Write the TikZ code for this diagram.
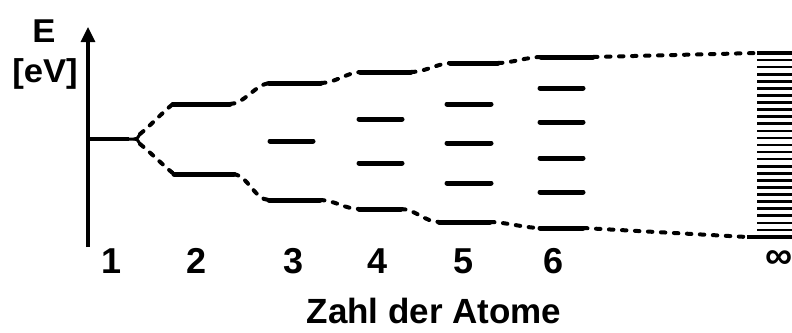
\documentclass[tikz,border=0pt]{standalone}
\usepackage{fontspec}
\setmainfont{Liberation Sans}
\usetikzlibrary{arrows.meta}
\begin{document}
\begin{tikzpicture}[x=1pt,y=-1pt,
  level/.style={line width=5pt,line cap=round},
  link/.style={line width=4pt,line cap=round,dash pattern=on 4.5pt off 8.5pt},
  bandline/.style={line width=2.6pt},
  axis/.style={line width=3.2pt,-{Triangle[width=14pt,length=15pt]}},
  num/.style={font=\fontsize{36}{36}\selectfont\bfseries,inner sep=0pt},
  title/.style={font=\fontsize{35}{35}\selectfont\bfseries,inner sep=0pt},
  unit/.style={font=\fontsize{33}{33}\selectfont\bfseries,inner sep=0pt}]
\useasboundingbox (0,0) rectangle (792,332);

% energy axis
\coordinate (ax0) at (88,247);
\coordinate (ax1) at (88,27);
\draw[axis] (ax0) -- (ax1);
\node[unit] (eE) at (44,31) {\scalebox{1.05}[1]{E}};
\node[unit] (eV) at (45,74) {\scalebox{1.05}[1]{[eV]}};

% one atom and its split
\coordinate (a1l) at (88,139);
\coordinate (a1r) at (129,139);
\coordinate (fork) at (134,139);
\coordinate (forkU) at (140,134);
\coordinate (forkD) at (140,144);
\draw[line width=4.5pt] (a1l) -- (a1r);
\draw[line width=3pt,line cap=round] (a1r) -- (fork) .. controls (137,139) .. (forkU);
\draw[line width=3pt,line cap=round] (fork) .. controls (137,139) .. (forkD);

% two atoms
\coordinate (b1l) at (173,104); \coordinate (b1r) at (230,104);
\coordinate (b2l) at (174,174); \coordinate (b2r) at (234,174);
\draw[level] (b1l) -- (b1r);
\draw[level] (b2l) -- (b2r);

% three atoms
\coordinate (c1l) at (269,83);  \coordinate (c1r) at (321,83);
\coordinate (c2l) at (270,141); \coordinate (c2r) at (313,141);
\coordinate (c3l) at (269,200); \coordinate (c3r) at (320,200);
\foreach \i in {1,2,3} \draw[level] (c\i l) -- (c\i r);

% four atoms
\coordinate (d1l) at (360,72);  \coordinate (d1r) at (411,72);
\coordinate (d2l) at (359,119); \coordinate (d2r) at (402,119);
\coordinate (d3l) at (359,163); \coordinate (d3r) at (402,163);
\coordinate (d4l) at (359,209); \coordinate (d4r) at (401,209);
\foreach \i in {1,...,4} \draw[level] (d\i l) -- (d\i r);

% five atoms
\coordinate (e1l) at (450,63);  \coordinate (e1r) at (498,63);
\coordinate (e2l) at (447,104); \coordinate (e2r) at (491,104);
\coordinate (e3l) at (447,143); \coordinate (e3r) at (491,143);
\coordinate (e4l) at (447,183); \coordinate (e4r) at (491,183);
\coordinate (e5l) at (439,222); \coordinate (e5r) at (490,222);
\foreach \i in {1,...,5} \draw[level] (e\i l) -- (e\i r);

% six atoms
\coordinate (f1l) at (541,57);  \coordinate (f1r) at (593,57);
\coordinate (f2l) at (540,88);  \coordinate (f2r) at (583,88);
\coordinate (f3l) at (540,122); \coordinate (f3r) at (583,122);
\coordinate (f4l) at (540,158); \coordinate (f4r) at (583,158);
\coordinate (f5l) at (540,192); \coordinate (f5r) at (583,192);
\coordinate (f6l) at (540,228); \coordinate (f6r) at (583,228);
\foreach \i in {1,...,6} \draw[level] (f\i l) -- (f\i r);

% infinitely many atoms: quasi-continuous band
\coordinate (g1l) at (757,53);  \coordinate (g1r) at (792,53);
\coordinate (g2l) at (747,237); \coordinate (g2r) at (792,237);
\foreach \k in {1,...,25}
  \draw[bandline] (757,{53+\k*7.077}) -- (792,{53+\k*7.077});
\draw[line width=4.5pt] (g1l) -- (g1r);
\draw[line width=4.5pt] (g2l) -- (g2r);

% upper envelope
\draw[link] (forkU) .. controls +(10,-8) and +(-8,6) .. (b1l);
\draw[link] (b1r) .. controls +(14,0) and +(-14,2) .. (c1l);
\draw[link] (c1r) .. controls +(14,0) and +(-14,1) .. (d1l);
\draw[link] (d1r) .. controls +(14,0) and +(-14,1) .. (e1l);
\draw[link] (e1r) .. controls +(14,0) and +(-14,0) .. (f1l);
\draw[link] (f1r) -- (g1l);

% lower envelope
\draw[link] (forkD) .. controls +(10,8) and +(-8,-6) .. (b2l);
\draw[link] (b2r) .. controls +(14,2) and +(-14,0) .. (c3l);
\draw[link] (c3r) .. controls +(14,0) and +(-14,0) .. (d4l);
\draw[link] (d4r) .. controls +(14,0) and +(-14,0) .. (e5l);
\draw[link] (e5r) .. controls +(14,0) and +(-14,0) .. (f6l);
\draw[link] (f6r) -- (g2l);

% number of atoms
\node[num] (n1) at (112,261) {1};
\node[num] (n2) at (197,261) {2};
\node[num] (n3) at (294,261) {3};
\node[num] (n4) at (378,261) {4};
\node[num] (n5) at (464,261) {5};
\node[num] (n6) at (554,261) {6};
\node[num,font=\fontsize{38}{38}\selectfont\bfseries] (ninf) at (779,260) {∞};
\node[title] (xl) at (434,311) {Zahl der Atome};
\end{tikzpicture}
\end{document}
